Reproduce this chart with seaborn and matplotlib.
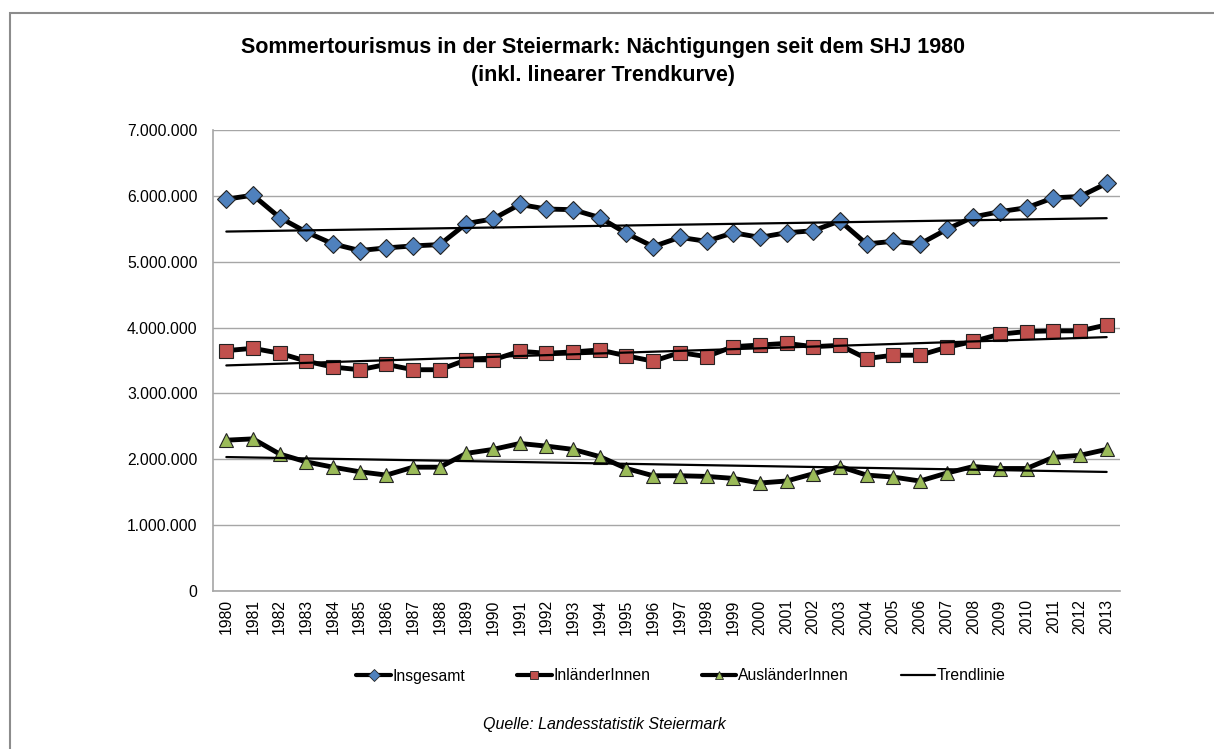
import matplotlib
matplotlib.use('Agg')
import matplotlib.pyplot as plt
import matplotlib.patches as mpatches
from matplotlib.lines import Line2D
from matplotlib.ticker import FuncFormatter
import numpy as np
import seaborn as sns

# Daten (Nächtigungen Sommerhalbjahr)
jahre = list(range(1980, 2014))
insgesamt = [5.95, 6.01, 5.67, 5.45, 5.27, 5.17, 5.21, 5.24, 5.26, 5.58,
             5.65, 5.87, 5.80, 5.79, 5.67, 5.43, 5.23, 5.37, 5.31, 5.44,
             5.37, 5.44, 5.47, 5.62, 5.27, 5.31, 5.27, 5.49, 5.68, 5.76,
             5.82, 5.97, 5.99, 6.19]
inlaender = [3.65, 3.685, 3.61, 3.49, 3.40, 3.36, 3.44, 3.36, 3.36, 3.51,
             3.51, 3.64, 3.61, 3.63, 3.66, 3.57, 3.49, 3.62, 3.56, 3.71,
             3.735, 3.76, 3.71, 3.73, 3.53, 3.58, 3.58, 3.70, 3.79, 3.90,
             3.94, 3.95, 3.95, 4.04]
auslaender = [2.29, 2.31, 2.08, 1.96, 1.88, 1.81, 1.76, 1.88, 1.88, 2.09,
              2.15, 2.24, 2.20, 2.15, 2.04, 1.86, 1.75, 1.75, 1.74, 1.71,
              1.64, 1.67, 1.78, 1.89, 1.76, 1.73, 1.67, 1.79, 1.89, 1.86,
              1.86, 2.03, 2.06, 2.15]
namen = ['Insgesamt', 'InländerInnen', 'AusländerInnen']
farben = ['#4F81BD', '#C0504D', '#9BBB59']
marker = ['D', 's', '^']
groessen = [9, 10, 10]

sns.set_style('white')
plt.rcParams['font.family'] = ['Liberation Sans', 'DejaVu Sans']
plt.rcParams['text.color'] = 'black'

fig = plt.figure(figsize=(12.14, 7.49), dpi=100)
ax = fig.add_axes([213 / 1214, 1 - 591 / 749, 907 / 1214, 461 / 749])

reihen = [insgesamt, inlaender, auslaender]
for werte, name, farbe, mk, gr in zip(reihen, namen, farben, marker, groessen):
    y = np.array(werte) * 1e6
    sns.lineplot(x=jahre, y=y, ax=ax, color='black', linewidth=3.5,
                 marker=mk, markersize=gr, markerfacecolor=farbe,
                 markeredgecolor='#222222', markeredgewidth=0.8, zorder=3)
    # lineare Trendlinie
    sns.regplot(x=np.array(jahre), y=y, ax=ax, scatter=False, ci=None,
                color='black', line_kws={'linewidth': 1.6, 'zorder': 4})

ax.set_xlim(1979.5, 2013.5)
ax.set_ylim(0, 7e6)
ax.set_yticks(np.arange(0, 7.5e6, 1e6))
ax.yaxis.set_major_formatter(FuncFormatter(lambda v, p: f'{v:,.0f}'.replace(',', '.')))
ax.set_xticks(jahre)
ax.set_xticklabels([str(j) for j in jahre], rotation=90)
ax.tick_params(axis='both', length=0, labelsize=11.3, colors='black')
ax.tick_params(axis='y', pad=11)
ax.tick_params(axis='x', pad=6)
ax.grid(axis='y', color='#A6A6A6', linewidth=1)
ax.set_axisbelow(True)
for s in ['top', 'right']:
    ax.spines[s].set_visible(False)
for s in ['left', 'bottom']:
    ax.spines[s].set_color('#A6A6A6')
    ax.spines[s].set_linewidth(1.2)
ax.set_xlabel('')
ax.set_ylabel('')

fig.text(0.497, 1 - 48 / 749, 'Sommertourismus in der Steiermark: Nächtigungen seit dem SHJ 1980',
         ha='center', va='center', fontsize=15.5, fontweight='bold')
fig.text(0.497, 1 - 75 / 749, '(inkl. linearer Trendkurve)',
         ha='center', va='center', fontsize=15.5, fontweight='bold')

handles = [Line2D([], [], color='black', linewidth=3, marker=m, markersize=6,
                  markerfacecolor=f, markeredgecolor='#222222', markeredgewidth=0.6)
           for m, f in zip(marker, farben)]
handles.append(Line2D([], [], color='black', linewidth=1.6))
fig.legend(handles, namen + ['Trendlinie'], loc='center', ncol=4,
           bbox_to_anchor=(0.561, 1 - 676 / 749), frameon=False, fontsize=11.3,
           handlelength=2.2, handletextpad=0.1, columnspacing=3.3)

fig.text(0.498, 1 - 725 / 749, 'Quelle: Landesstatistik Steiermark',
         ha='center', va='center', fontsize=11.5, style='italic')

fig.patches.append(mpatches.Rectangle((9.5 / 1214, -0.1), 1.5, 1 - 13 / 749 + 0.1,
                                      transform=fig.transFigure, fill=False,
                                      edgecolor='#8C8C8C', linewidth=1.5))

fig.savefig('out.png', dpi=100)
